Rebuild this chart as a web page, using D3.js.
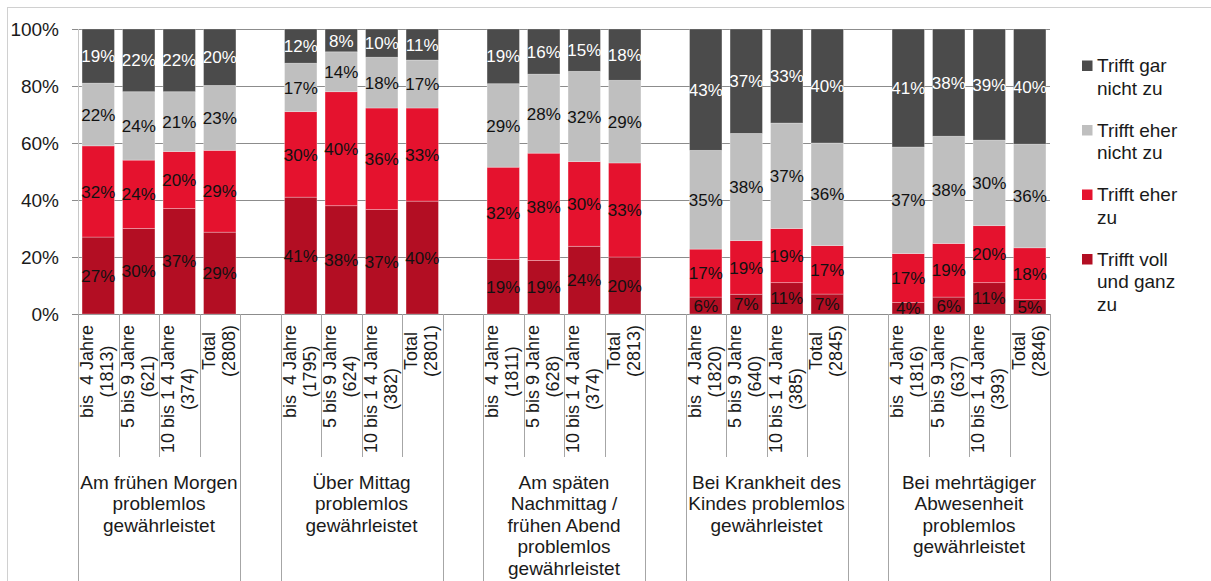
<!DOCTYPE html>
<html>
<head>
<meta charset="utf-8">
<script src="https://cdn.jsdelivr.net/npm/d3@7"></script>
<style>
  html, body { margin: 0; padding: 0; background: #fff; }
  svg { display: block; font-family: "Liberation Sans", Arial, sans-serif; }
  text { white-space: pre; }
</style>
</head>
<body>
<svg id="chart" width="1211" height="581"></svg>
<script>
// ---------------- DATA ----------------
const groupLabels = [
  ["Am frühen Morgen", "problemlos", "gewährleistet"],
  ["Über Mittag", "problemlos", "gewährleistet"],
  ["Am späten", "Nachmittag /", "frühen Abend", "problemlos", "gewährleistet"],
  ["Bei Krankheit des", "Kindes problemlos", "gewährleistet"],
  ["Bei mehrtägiger", "Abwesenheit", "problemlos", "gewährleistet"]
];
const subCategories = ["bis  4 Jahre", "5 bis 9 Jahre", "10 bis 1 4 Jahre", "Total"];
const counts = [
  [1813, 621, 374, 2808],
  [1795, 624, 382, 2801],
  [1811, 628, 374, 2813],
  [1820, 640, 385, 2845],
  [1816, 637, 393, 2846]
];
const seriesNames = ["Trifft voll und ganz zu", "Trifft eher zu", "Trifft eher nicht zu", "Trifft gar nicht zu"];
const legendLines = [
  ["Trifft gar", "nicht zu"],
  ["Trifft eher", "nicht zu"],
  ["Trifft eher", "zu"],
  ["Trifft voll", "und ganz", "zu"]
];
// values in %, order: group by group, 4 sub categories each
const vollUndGanz = [27, 30, 37, 29,  41, 38, 37, 40,  19, 19, 24, 20,  6, 7, 11, 7,  4, 6, 11, 5];
const eherZu      = [32, 24, 20, 29,  30, 40, 36, 33,  32, 38, 30, 33,  17, 19, 19, 17,  17, 19, 20, 18];
const eherNicht   = [22, 24, 21, 23,  17, 14, 18, 17,  29, 28, 32, 29,  35, 38, 37, 36,  37, 38, 30, 36];
const garNicht    = [19, 22, 22, 20,  12,  8, 10, 11,  19, 16, 15, 18,  43, 37, 33, 40,  41, 38, 39, 40];
const yTicks = [0, 0.2, 0.4, 0.6, 0.8, 1.0];

// ---------------- STYLE ----------------
const colors = ["#b30e23", "#e5122e", "#bfbfbf", "#4b4b4b"];
const labelColors = ["#111", "#111", "#111", "#ffffff"];

// ---------------- BUILD ----------------
const svg = d3.select("#chart");
const W = 1211, H = 581;
const plotLeft = 78, plotRight = 1050, plotTop = 29, plotBottom = 314;

// frame
svg.append("rect").attr("x", 7.5).attr("y", 7.5).attr("width", W).attr("height", H)
  .attr("fill", "none").attr("stroke", "#d0d0d0").attr("stroke-width", 1);

// rows
const seriesArrays = [vollUndGanz, eherZu, eherNicht, garNicht];
const rows = [];
groupLabels.forEach((g, gi) => {
  subCategories.forEach((s, si) => {
    const idx = gi * subCategories.length + si;
    const r = { key: `g${gi}s${si}`, group: gi, sub: si, label: s, n: counts[gi][si] };
    seriesNames.forEach((name, k) => { r[name] = seriesArrays[k][idx]; });
    rows.push(r);
  });
});

// slot domain with empty gap slots between groups
const slotKeys = [];
groupLabels.forEach((g, gi) => {
  subCategories.forEach((s, si) => slotKeys.push(`g${gi}s${si}`));
  if (gi < groupLabels.length - 1) slotKeys.push(`gap${gi}`);
});

const x = d3.scaleBand().domain(slotKeys).range([plotLeft, plotRight])
  .paddingInner(0.2).paddingOuter(0.1);
const y = d3.scaleLinear().domain([0, 1]).range([plotBottom, plotTop]);
const step = x.step();
const slotLeft = k => x(k) - (step - x.bandwidth()) / 2;

// gridlines
svg.append("g").selectAll("line").data(yTicks).join("line")
  .attr("x1", 72).attr("x2", plotRight)
  .attr("y1", d => Math.round(y(d)) + 0.5).attr("y2", d => Math.round(y(d)) + 0.5)
  .attr("stroke", "#8c8c8c").attr("stroke-width", 1);

// y axis line
svg.append("line").attr("x1", plotLeft + 0.5).attr("x2", plotLeft + 0.5)
  .attr("y1", plotTop).attr("y2", plotBottom)
  .attr("stroke", "#c8c8c8").attr("stroke-width", 1);

// y tick labels
const yAxis = d3.axisLeft(y).tickValues(yTicks).tickFormat(d3.format(".0%"))
  .tickSize(0).tickPadding(19);
const gy = svg.append("g").attr("transform", `translate(${plotLeft},0)`).call(yAxis);
gy.select(".domain").remove();
gy.selectAll("text").attr("font-size", 19).attr("fill", "#1a1a1a")
  .attr("font-family", "'Liberation Sans', Arial, sans-serif");

// stacked bars
const stack = d3.stack().keys(seriesNames).offset(d3.stackOffsetExpand);
const stacked = stack(rows);

const barG = svg.append("g");
stacked.forEach((layer, li) => {
  const g = barG.append("g");
  g.selectAll("rect").data(layer).join("rect")
    .attr("x", d => x(d.data.key))
    .attr("width", x.bandwidth())
    .attr("y", d => y(d[1]))
    .attr("height", d => y(d[0]) - y(d[1]))
    .attr("fill", colors[li])
    .attr("stroke", "rgba(255,255,255,0.35)")
    .attr("stroke-width", 0.8);
});
stacked.forEach((layer, li) => {
  svg.append("g").selectAll("text").data(layer).join("text")
    .attr("x", d => x(d.data.key) + x.bandwidth() / 2)
    .attr("y", d => (y(d[0]) + y(d[1])) / 2)
    .attr("dy", "0.36em")
    .attr("text-anchor", "middle")
    .attr("font-size", 17)
    .attr("fill", labelColors[li])
    .text(d => d.data[seriesNames[li]] + "%");
});

// category boundary lines
const catLines = [];
groupLabels.forEach((g, gi) => {
  subCategories.forEach((s, si) => {
    const k = `g${gi}s${si}`;
    catLines.push({ x: slotLeft(k), full: si === 0 });
    if (si === subCategories.length - 1) catLines.push({ x: slotLeft(k) + step, full: true });
  });
});
svg.append("g").selectAll("line").data(catLines).join("line")
  .attr("x1", d => Math.round(d.x) + 0.5).attr("x2", d => Math.round(d.x) + 0.5)
  .attr("y1", plotBottom).attr("y2", d => d.full ? H : 457)
  .attr("stroke", "#a6a6a6").attr("stroke-width", 1);

// rotated sub-category labels (one text element, two tspans)
rows.forEach(r => {
  const cx = x(r.key) + x.bandwidth() / 2;
  const g = svg.append("g");
  const lines = [r.label, `(${r.n})`];
  const t = g.append("text")
    .attr("text-anchor", "middle")
    .attr("font-size", 18)
    .attr("fill", "#1a1a1a");
  const spans = lines.map((s, i) => t.append("tspan")
    .attr("x", 0)
    .attr("y", i === 0 ? -5 : 15)
    .text(s));
  const maxLen = d3.max(spans, s => s.node().getComputedTextLength());
  g.attr("transform", `translate(${cx},${325 + maxLen / 2}) rotate(-90)`);
});

// group labels (one text element per group, lines as tspans)
groupLabels.forEach((lines, gi) => {
  const left = slotLeft(`g${gi}s0`);
  const right = slotLeft(`g${gi}s${subCategories.length - 1}`) + step;
  const cx = (left + right) / 2;
  const t = svg.append("text")
    .attr("text-anchor", "middle")
    .attr("font-size", 19)
    .attr("fill", "#1a1a1a");
  t.selectAll("tspan").data(lines).join("tspan")
    .attr("x", cx)
    .attr("y", (d, i) => 489 + i * 21.4)
    .text(d => d);
});

// legend
const legendOrder = [3, 2, 1, 0];
legendOrder.forEach((si, i) => {
  const baseY = 72 + i * 64.5;
  const g = svg.append("g");
  g.append("rect").attr("x", 1082).attr("y", baseY - 11.5)
    .attr("width", 10.5).attr("height", 10.5).attr("fill", colors[si]);
  const t = g.append("text")
    .attr("font-size", 19)
    .attr("fill", "#1a1a1a");
  t.selectAll("tspan").data(legendLines[i]).join("tspan")
    .attr("x", 1097)
    .attr("y", (d, j) => baseY + j * 22.7)
    .text(d => d);
});
</script>
</body>
</html>
